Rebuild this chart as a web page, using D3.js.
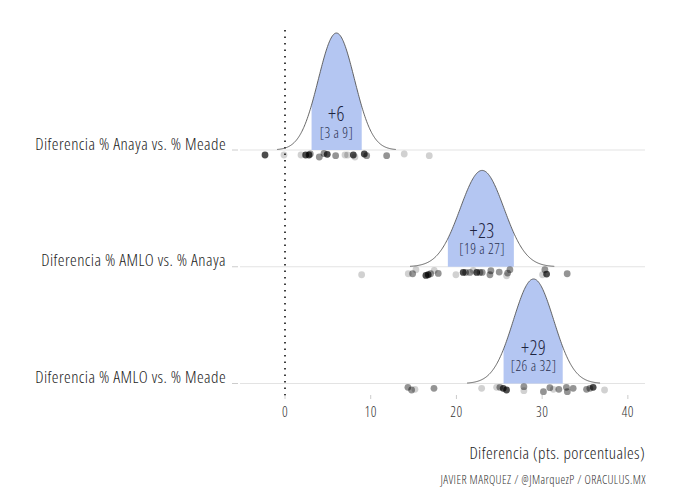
<!DOCTYPE html>
<html><head><meta charset="utf-8">
<script src="https://cdn.jsdelivr.net/npm/d3@7"></script>
<style>
body{margin:0;background:#fff;}
text{font-family:"Open Sans";font-stretch:75%;font-weight:300;letter-spacing:0.4px;}
</style></head>
<body><svg id="c" width="680" height="503"></svg>
<script>
const categories = ["Diferencia % Anaya vs. % Meade","Diferencia % AMLO vs. % Anaya","Diferencia % AMLO vs. % Meade"];
const means = [6, 23, 29];
const sds = [2.1, 2.55, 2.35];
const bandLo = [3.1, 19.0, 25.5];
const bandHi = [8.95, 26.7, 32.4];
const mainLabels = ["+6","+23","+29"];
const rangeLabels = ["[3 a 9]","[19 a 27]","[26 a 32]"];
const xTicks = [0,10,20,30,40];
const xTitle = "Diferencia (pts. porcentuales)";
const caption = "JAVIER MARQUEZ / @JMarquezP / ORACULUS.MX";
// polls: [value, jitter, shade(1 light,2 mid,3 dark)]
const pollsAnayaMeade = [[-2.33,5,3],[-0.12,5,1],[1.87,5,1],[2.41,5,3],[2.8,5,3],[2.95,4,2],[4.0,7,2],[4.55,3.5,2],[4.93,4.3,3],[5.91,5.7,2],[7.0,5,1],[7.3,5,1],[7.97,5,3],[8.16,7,1],[9.25,4,3],[9.53,5.7,2],[11.86,5.7,2],[13.91,4,1],[16.83,5.7,1]];
const pollsAmloAnaya = [[8.94,8,1],[14.38,7,1],[14.89,7,2],[15.28,3,1],[16.44,8.7,3],[16.71,8,3],[16.99,7,2],[17.41,3.7,1],[17.88,6.7,2],[19.94,8,1],[20.79,5.7,3],[21.07,5.7,2],[21.57,5.7,2],[21.96,3.7,1],[22.36,5.7,3],[22.74,5.7,2],[23.01,5.7,2],[23.91,8,2],[24.02,4,2],[24.99,5.3,2],[25.85,9,1],[25.97,6.3,2],[26.24,3,2],[30.05,8,1],[30.32,3,2],[30.52,7.3,3],[32.92,7,2]];
const pollsAmloMeade = [[14.34,3.8,2],[14.77,6.5,2],[15.16,5.8,1],[17.38,4.8,2],[22.94,4.8,1],[24.69,3.8,1],[25.07,3.8,2],[25.46,4.8,3],[25.85,6.5,3],[27.87,3.2,2],[27.87,7.2,1],[30.15,8.2,2],[30.9,4.2,2],[31.31,5.8,1],[31.95,5.8,2],[32.83,3.8,2],[32.94,8.2,2],[33.62,4.8,2],[35.18,5.8,2],[35.57,4.8,2],[35.95,3.8,3],[37.28,6.5,1]];
const polls = [pollsAnayaMeade, pollsAmloAnaya, pollsAmloMeade];

const svg = d3.select("#c");
const x = d3.scaleLinear().domain([-5.25, 42]).range([240, 645]);
const y = d3.scalePoint().domain(categories).range([150, 383.5]);
const h = d3.scaleLinear().domain([0, 0.19]).range([0, 117]);
const jit = d3.scaleLinear().domain([0, 10]).range([0, 10]);
const alpha = d3.scaleOrdinal().domain([1,2,3]).range([0.18,0.42,0.7]);
const dens = (v,m,s)=>Math.exp(-0.5*((v-m)/s)**2)/(s*Math.sqrt(2*Math.PI));

// baselines
svg.append("g").selectAll("line").data(categories).join("line")
  .attr("x1", x.range()[0]).attr("x2", x.range()[1])
  .attr("y1", d=>y(d)).attr("y2", d=>y(d))
  .attr("stroke","#e3e3e3").attr("stroke-width",1);

// y axis labels + ticks
svg.append("g").selectAll("line").data(categories).join("line")
  .attr("x1",232).attr("x2",238).attr("y1",d=>y(d)).attr("y2",d=>y(d))
  .attr("stroke","#ccc");
svg.append("g").selectAll("text").data(categories).join("text")
  .attr("x",226).attr("y",d=>y(d)-0.5).attr("text-anchor","end")
  .attr("font-size",17).attr("fill","#222").text(d=>d);

// dotted zero line
svg.append("line").attr("x1",x(0)).attr("x2",x(0)).attr("y1",30).attr("y2",398)
  .attr("stroke","#111").attr("stroke-width",1.6).attr("stroke-dasharray","1.5,5");

categories.forEach((c,i)=>{
  const base = y(c), m = means[i], s = sds[i];
  const lo = m-3.3*s, hi = m+3.3*s;
  const xs = d3.range(0,201).map(k=>lo+(hi-lo)*k/200);
  const bx = d3.range(0,101).map(k=>bandLo[i]+(bandHi[i]-bandLo[i])*k/100);
  const area = d3.area().x(v=>x(v)).y0(base).y1(v=>base-h(dens(v,m,s)));
  svg.append("path").attr("d",area(bx)).attr("fill","#b4c6f2");
  const line = d3.line().x(v=>x(v)).y(v=>base-h(dens(v,m,s)));
  svg.append("path").attr("d",line(xs)).attr("fill","none").attr("stroke","#555").attr("stroke-width",0.9);
  svg.append("text").attr("x",x(m)).attr("y",base-29).attr("text-anchor","middle")
    .attr("font-size",19.5).attr("fill","#1e2440").text(mainLabels[i]);
  svg.append("text").attr("x",x(m)).attr("y",base-12.5).attr("text-anchor","middle")
    .attr("font-size",14).attr("fill","#2a3050").text(rangeLabels[i]);
  svg.append("g").selectAll("circle").data(polls[i]).join("circle")
    .attr("cx",d=>x(d[0])).attr("cy",d=>base+jit(d[1])).attr("r",3.4)
    .attr("fill","#000").attr("fill-opacity",d=>alpha(d[2]));
});

// x axis
const gx = svg.append("g");
gx.selectAll("line").data(xTicks).join("line")
  .attr("x1",d=>x(d)).attr("x2",d=>x(d)).attr("y1",395).attr("y2",399).attr("stroke","#ccc");
gx.selectAll("text").data(xTicks).join("text")
  .attr("x",d=>x(d)).attr("y",417).attr("text-anchor","middle")
  .attr("font-size",14).attr("fill","#333").text(d=>d);

svg.append("text").attr("x",645).attr("y",458.5).attr("text-anchor","end")
  .attr("font-size",17).attr("fill","#222").text(xTitle);
svg.append("text").attr("x",646).attr("y",484).attr("text-anchor","end")
  .attr("font-size",12).attr("fill","#333").text(caption);
</script></body></html>
